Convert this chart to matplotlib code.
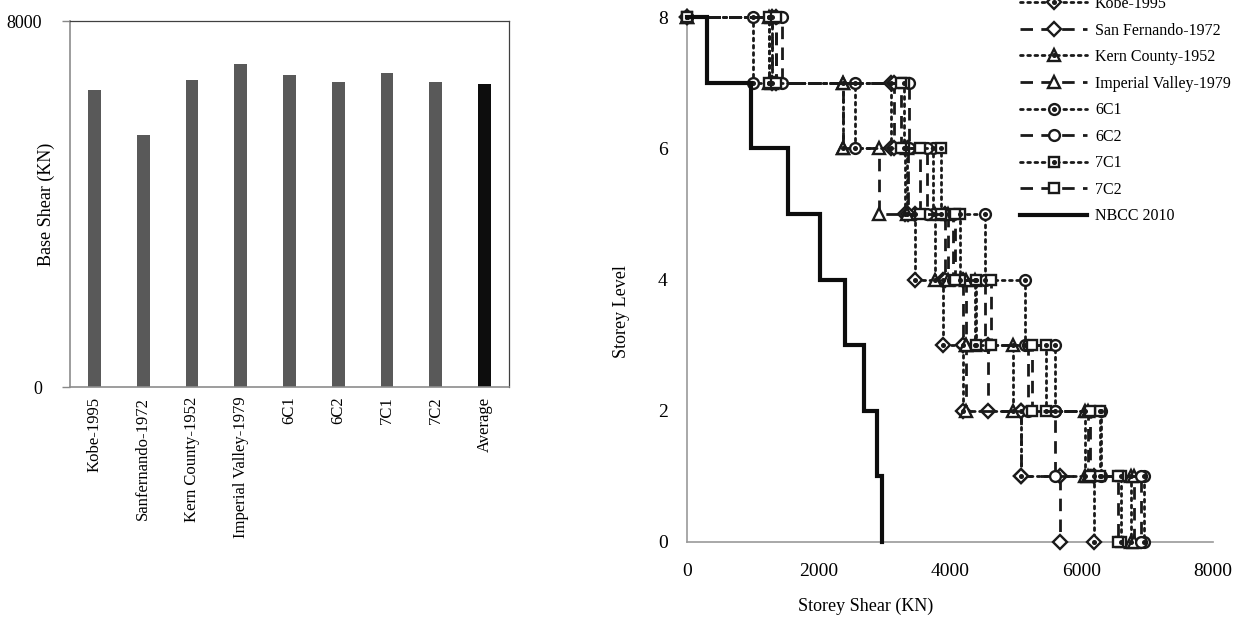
import numpy as np
import matplotlib
matplotlib.use("Agg")
import matplotlib.pyplot as plt
from matplotlib.legend_handler import HandlerTuple

# ---------------- data ----------------
bar_labels = ["Kobe-1995", "Sanfernando-1972", "Kern County-1952", "Imperial Valley-1979",
              "6C1", "6C2", "7C1", "7C2", "Average"]
base_shear = [6485, 5515, 6718, 7053, 6827, 6667, 6863, 6667, 6616]

storeys = [8, 7, 6, 5, 4, 3, 2, 1]          # storey whose shear is listed (top to bottom)
kobe      = [1300, 3100, 3313, 3465, 3896, 4200, 5076, 6185]
san_fern  = [1350, 3150, 3359, 3921, 4200, 4580, 5076, 5669]
kern      = [1250, 2380, 3340, 3769, 4377, 4960, 6050, 6750]
imperial  = [1300, 2380, 2918, 3970, 4250, 4250, 6100, 6800]
c6_1      = [1000, 2560, 3744, 4530, 5137, 5593, 6300, 6950]
c6_2      = [1450, 3380, 3643, 4050, 4530, 5190, 5593, 6900]
c7_1      = [1250, 3300, 3870, 4150, 4400, 5466, 6280, 6600]
c7_2      = [1350, 3250, 3540, 4073, 4630, 5250, 6130, 6550]
nbcc      = [300, 980, 1540, 2020, 2400, 2690, 2890, 2960]

series_names = ["Kobe-1995", "San Fernando-1972", "Kern County-1952", "Imperial Valley-1979",
                "6C1", "6C2", "7C1", "7C2"]
series_vals = [kobe, san_fern, kern, imperial, c6_1, c6_2, c7_1, c7_2]
series_marker = ["D", "D", "^", "^", "o", "o", "s", "s"]
series_dotted = [True, False, True, False, True, False, True, False]

# ---------------- figure ----------------
plt.rcParams["font.family"] = ["Liberation Serif", "DejaVu Serif"]
fig = plt.figure(figsize=(12.44, 6.22), dpi=100)
W, H = 1244, 622

def axrect(x0, y0, x1, y1):
    return [x0 / W, 1 - y1 / H, (x1 - x0) / W, (y1 - y0) / H]

# ----- left bar chart -----
axL = fig.add_axes(axrect(70, 21, 509, 387))
xpos = np.arange(len(bar_labels))
colors = ["#595959"] * (len(bar_labels) - 1) + ["#0d0d0d"]
axL.bar(xpos, base_shear, width=0.26, color=colors)
axL.set_xlim(-0.5, len(bar_labels) - 0.5)
axL.set_ylim(0, 8000)
axL.set_yticks([0, 8000])
axL.set_xticks(xpos)
axL.set_xticklabels(bar_labels, rotation=90, fontsize=12)
axL.tick_params(axis="x", length=0, pad=7)
axL.tick_params(axis="y", length=6, width=1, color="#888888", labelsize=13, pad=14)
for s in ["left", "bottom"]:
    axL.spines[s].set_color("#8c8c8c")
    axL.spines[s].set_linewidth(1.2)
for s in ["top", "right"]:
    axL.spines[s].set_color("#404040")
    axL.spines[s].set_linewidth(0.9)
axL.set_ylabel("Base Shear (KN)", fontsize=13)
axL.yaxis.set_label_coords((55 - 70) / 439, 0.5)

# ----- right step chart -----
axR = fig.add_axes(axrect(687, 17, 1213, 542))
ylev = np.r_[8, np.ravel([[L, L - 1] for L in storeys])]

handles = []
for name, vals, mk, dotted in zip(series_names, series_vals, series_marker, series_dotted):
    xs = np.r_[0, np.repeat(vals, 2)]
    ls = (0, (1, 1.6)) if dotted else (0, (4.5, 3.0))
    ms = {"D": 6.8, "^": 8.5, "o": 7.8, "s": 7.6}[mk]
    ln, = axR.plot(xs, ylev, linestyle=ls, color="#1a1a1a", lw=2.0,
                   marker=mk, ms=ms, mfc="white", mec="#1a1a1a", mew=1.7,
                   dash_capstyle="round" if dotted else "butt", clip_on=False, zorder=3)
    if dotted:
        dt, = axR.plot(xs, ylev, linestyle="none", marker="o", ms=2.6,
                       color="#1a1a1a", clip_on=False, zorder=4)
        handles.append((ln, dt))
    else:
        handles.append(ln)

xs_n = np.r_[0, np.repeat(nbcc, 2)]
nb, = axR.plot(xs_n, ylev, color="#0d0d0d", lw=3.0, solid_joinstyle="miter",
               clip_on=False, zorder=5)
handles.append(nb)

axR.set_xlim(0, 8000)
axR.set_ylim(0, 8)
axR.set_xticks([0, 2000, 4000, 6000, 8000])
axR.set_yticks([0, 2, 4, 6, 8])
axR.tick_params(axis="both", length=0, labelsize=14)
axR.tick_params(axis="x", pad=15)
axR.tick_params(axis="y", pad=14)
for s in ["top", "right"]:
    axR.spines[s].set_visible(False)
for s in ["left", "bottom"]:
    axR.spines[s].set_color("#999999")
    axR.spines[s].set_linewidth(1.2)
axR.set_xlabel("Storey Shear (KN)", fontsize=13)
axR.xaxis.set_label_coords((866 - 687) / 526, -(598 - 542) / 525)
axR.set_ylabel("Storey Level", fontsize=13)
axR.yaxis.set_label_coords((630 - 687) / 526, (542 - 312) / 525)

leg = fig.legend(handles, series_names + ["NBCC 2010"],
                 handler_map={tuple: HandlerTuple(ndivide=1)},
                 loc="upper left", bbox_to_anchor=(1020 / W, 1 + 4 / H),
                 frameon=False, fontsize=11.5, handlelength=4.2, handletextpad=0.5,
                 labelspacing=0.66, borderpad=0, borderaxespad=0, numpoints=1)

fig.savefig("out.png", dpi=100)
